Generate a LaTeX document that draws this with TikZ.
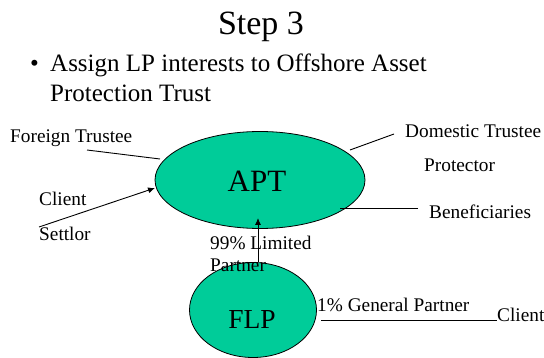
\documentclass[tikz,border=0pt]{standalone}
\usepackage{fontspec}
\setmainfont{Liberation Serif}
\usetikzlibrary{arrows.meta}
\definecolor{aptgreen}{HTML}{00CC99}
\begin{document}
\begin{tikzpicture}[x=1pt,y=-1pt,
  blob/.style={draw=black,line width=0.8pt,fill=aptgreen},
  lbl/.style={anchor=base west,inner sep=0pt,font=\fontsize{19.3}{21}\selectfont},
  big/.style={anchor=base west,inner sep=0pt,font=\fontsize{25}{27}\selectfont},
  conn/.style={draw=black,line width=0.9pt},
  arr/.style={conn,-{Latex[length=7pt,width=6pt]}}]
\useasboundingbox (0,0) rectangle (544,358);
% title and bullet
\node (title) at (261,35) [anchor=base,inner sep=0pt,font=\fontsize{34}{36}\selectfont] {Step 3};
\node (bullet) at (30,72) [big] {\textbullet};
\node (b1) at (50,72) [big] {Assign LP interests to Offshore Asset};
\node (b2) at (50,102) [big] {Protection Trust};
% ellipses
\draw[blob] (260,180) ellipse [x radius=105,y radius=48.5];
\node (apt) at (260,180) [inner sep=0pt,minimum width=210pt,minimum height=97pt] {};
\node (apttext) at (257,192) [anchor=base,inner sep=0pt,font=\fontsize{31}{33}\selectfont] {APT};
\draw[blob] (253,310) ellipse [x radius=63.5,y radius=47.5];
\node (flp) at (253,310) [inner sep=0pt,minimum width=127pt,minimum height=95pt] {};
\node (flptext) at (252,329) [anchor=base,inner sep=0pt,font=\fontsize{27.5}{29}\selectfont] {FLP};
% labels
\node (ft) at (10,143) [lbl] {Foreign Trustee};
\node (dt) at (405,138) [lbl] {Domestic Trustee};
\node (prot) at (424,172) [lbl] {Protector};
\node (ben) at (429,219) [lbl] {Beneficiaries};
\node (cl) at (39,206) [lbl] {Client};
\node (set) at (39,241) [lbl] {Settlor};
\node (lp1) at (210,250) [lbl] {99\% Limited};
\node (lp2) at (210,272) [lbl] {Partner};
\node (gp) at (317,312) [lbl] {1\% General Partner};
\node (cl2) at (497,322) [lbl] {Client};
% connector points
\coordinate (ftA) at (87,150);
\coordinate (ftB) at (160,159);
\coordinate (dtA) at (394,134);
\coordinate (dtB) at (350,150);
\coordinate (bnA) at (418,208);
\coordinate (bnB) at (340,208);
\coordinate (clA) at (39,227);
\coordinate (clB) at (155,188);
\coordinate (lpA) at (258,262);
\coordinate (lpB) at (258,218);
\coordinate (gpA) at (321,320);
\coordinate (gpB) at (497,320);
\draw[conn] (ftA) -- (ftB);
\draw[conn] (dtA) -- (dtB);
\draw[conn] (bnA) -- (bnB);
\draw[arr] (clA) -- (clB);
\draw[arr] (lpA) -- (lpB);
\draw[conn] (gpA) -- (gpB);
\end{tikzpicture}
\end{document}
